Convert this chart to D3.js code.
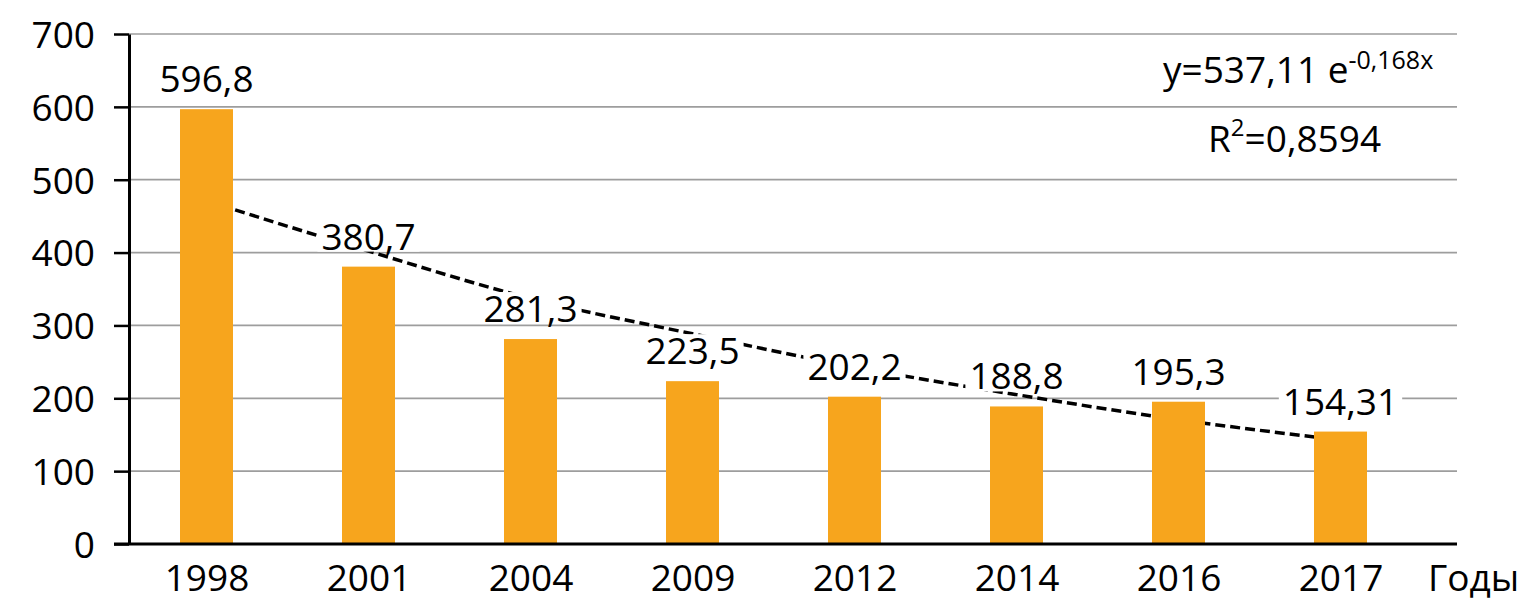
<!DOCTYPE html>
<html>
<head>
<meta charset="utf-8">
<script src="https://cdn.jsdelivr.net/npm/d3@7"></script>
<style>
  html, body { margin: 0; padding: 0; background: #fff; }
  svg text { font-family: "Open Sans", "Noto Sans", sans-serif; fill: #000; }
</style>
</head>
<body>
<svg id="chart" width="1525" height="610"></svg>
<script>
// ---- data ----
const years = ["1998", "2001", "2004", "2009", "2012", "2014", "2016", "2017"];
const values = [596.8, 380.7, 281.3, 223.5, 202.2, 188.8, 195.3, 154.31];
const valueLabels = ["596,8", "380,7", "281,3", "223,5", "202,2", "188,8", "195,3", "154,31"];
const trendValues = [471, 402, 337, 288.5, 243, 205, 170.7, 142.5];
const yTicks = [0, 100, 200, 300, 400, 500, 600, 700];
const xAxisTitle = "Годы";
const equationMain = "y=537,11 e";
const equationExp = "-0,168x";
const r2Base = "R";
const r2Sup = "2";
const r2Rest = "=0,8594";

// ---- layout ----
const svg = d3.select("#chart");
const axisX = 129, plotRight = 1457, plotBottom = 544, plotTop = 34;
const barColor = "#F7A51D";
const fontSize = 37;

const y = d3.scaleLinear().domain([0, 700]).range([plotBottom, plotTop]);
const x = d3.scalePoint().domain(years).range([125.5, 1421.5]).padding(0.5);
const barW = 53;

// gridlines
svg.append("g").selectAll("line").data(yTicks.filter(d => d > 0)).join("line")
  .attr("x1", axisX).attr("x2", plotRight)
  .attr("y1", d => y(d)).attr("y2", d => y(d))
  .attr("stroke", "#9d9d9d").attr("stroke-width", 1.7);

// trendline (behind bars)
const line = d3.line().x((d, i) => x(years[i])).y(d => y(d)).curve(d3.curveMonotoneX);
svg.append("path").datum(trendValues)
  .attr("d", line).attr("fill", "none")
  .attr("stroke", "#000").attr("stroke-width", 3.5)
  .attr("stroke-dasharray", "10,5");

// bars
svg.append("g").selectAll("rect").data(values).join("rect")
  .attr("x", (d, i) => x(years[i]) - barW / 2)
  .attr("width", barW)
  .attr("y", d => y(d))
  .attr("height", d => plotBottom - y(d))
  .attr("fill", barColor);

// y axis
const yAxis = svg.append("g").attr("transform", `translate(${axisX},0)`)
  .call(d3.axisLeft(y).tickValues(yTicks).tickSize(15).tickSizeOuter(0).tickPadding(19).tickFormat(d3.format("d")));
yAxis.select(".domain").attr("stroke", "#000").attr("stroke-width", 3);
yAxis.selectAll(".tick line").attr("stroke", "#000").attr("stroke-width", 2.5);
yAxis.selectAll(".tick text").attr("font-size", fontSize).attr("font-family", "Open Sans").attr("fill", "#000").attr("dy", "0.36em");

// x axis
const xAxis = svg.append("g").attr("transform", `translate(0,${plotBottom})`)
  .call(d3.axisBottom(x).tickSize(0).tickPadding(0));
xAxis.select(".domain").remove();
xAxis.selectAll(".tick text").attr("font-size", fontSize).attr("font-family", "Open Sans")
  .attr("fill", "#000").attr("y", 47).attr("dy", 0);
svg.append("line").attr("x1", axisX - 15).attr("x2", plotRight)
  .attr("y1", plotBottom).attr("y2", plotBottom)
  .attr("stroke", "#000").attr("stroke-width", 3);

svg.append("text").attr("x", 1428).attr("y", 591).attr("font-size", fontSize).text(xAxisTitle);

// value labels with white background
const labelG = svg.append("g");
values.forEach((v, i) => {
  const g = labelG.append("g");
  const base = y(v) - 17;
  const t = g.append("text")
    .attr("x", x(years[i])).attr("y", base)
    .attr("text-anchor", "middle").attr("font-size", fontSize)
    .text(valueLabels[i]);
  const bb = t.node().getBBox();
  g.insert("rect", "text")
    .attr("x", bb.x - 4).attr("y", base - 30)
    .attr("width", bb.width + 8).attr("height", 32)
    .attr("fill", "#fff");
});

// equation
const eq = svg.append("text").attr("x", 1163).attr("y", 83).attr("font-size", fontSize);
eq.append("tspan").text(equationMain);
eq.append("tspan").attr("font-size", 25).attr("dy", -14).text(equationExp);

const r2 = svg.append("text").attr("x", 1208).attr("y", 152).attr("font-size", fontSize);
r2.append("tspan").text(r2Base);
r2.append("tspan").attr("font-size", 24).attr("dy", -16).text(r2Sup);
r2.append("tspan").attr("dy", 16).text(r2Rest);
</script>
</body>
</html>
